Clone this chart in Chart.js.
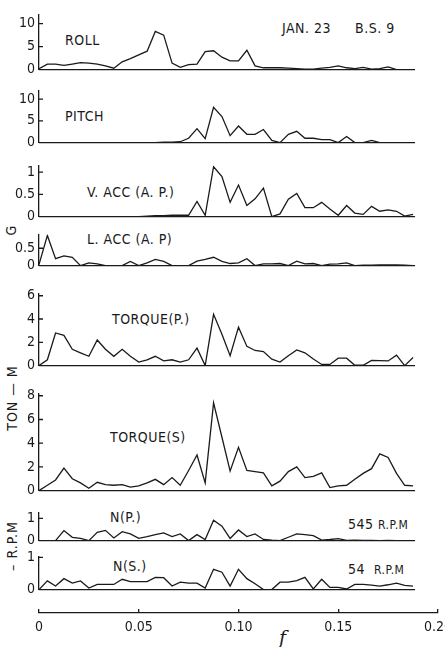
<!DOCTYPE html>
<html>
<head>
<meta charset="utf-8">
<script src="https://cdn.jsdelivr.net/npm/chart.js@4.4.1/dist/chart.umd.min.js"></script>
<style>
  html, body { margin: 0; padding: 0; background: #fff; }
  body { width: 445px; height: 647px; overflow: hidden; position: relative;
         font-family: 'Liberation Sans Narrow', 'DejaVu Sans Condensed', 'Liberation Sans', sans-serif; color: #1a1a1a; }
  .panel { position: absolute; left: 0; width: 460px; }
  .lbl { position: absolute; font-size: 14px; line-height: 14px; white-space: nowrap; letter-spacing: 0.5px; }
  .small { font-size: 12px; }
  .rot { position: absolute; font-size: 14px; line-height: 14px; white-space: nowrap; letter-spacing: 1px;
         transform: translate(-50%, -50%) rotate(-90deg); }
  .f { position: absolute; font-family: 'DejaVu Serif', serif; font-style: italic; font-size: 19px; line-height: 19px; }
</style>
</head>
<body>

<div class="lbl" style="left:65px;top:33px">ROLL</div>
<div class="lbl" style="left:282px;top:21px">JAN. 23</div>
<div class="lbl" style="left:355px;top:21px">B.S. 9</div>
<div class="lbl" style="left:65px;top:109px">PITCH</div>
<div class="lbl" style="left:87px;top:185px">V. ACC (A. P.)</div>
<div class="lbl" style="left:87px;top:232px">L. ACC (A. P)</div>
<div class="lbl" style="left:112px;top:312px">TORQUE(P.)</div>
<div class="lbl" style="left:110px;top:430px">TORQUE(S)</div>
<div class="lbl" style="left:110px;top:510px">N(P.)</div>
<div class="lbl" style="left:348px;top:517px">545 <span class="small">R.P.M</span></div>
<div class="lbl" style="left:113px;top:559px">N(S.)</div>
<div class="lbl" style="left:348px;top:562px">54 &nbsp;<span class="small">R.P.M</span></div>
<div class="rot" style="left:11px;top:230px">G</div>
<div class="rot" style="left:12px;top:398px">TON — M</div>
<div class="rot" style="left:12px;top:546px">– R.P.M</div>
<div class="f" style="left:279px;top:628px">f</div>

<script>
// frequency grid (Hz)
const freqs = [0, 0.0042, 0.0083, 0.0125, 0.0167, 0.0208, 0.025, 0.0292, 0.0333, 0.0375,
  0.0417, 0.0458, 0.05, 0.0542, 0.0583, 0.0625, 0.0667, 0.0708, 0.075, 0.0792,
  0.0833, 0.0875, 0.0917, 0.0958, 0.1, 0.1042, 0.1083, 0.1125, 0.1167, 0.1208,
  0.125, 0.1292, 0.1333, 0.1375, 0.1417, 0.1458, 0.15, 0.1542, 0.1583, 0.1625,
  0.1667, 0.1708, 0.175, 0.1792, 0.1833, 0.1875];

const roll = [0.2, 1.2, 1.2, 0.9, 1.2, 1.5, 1.4, 1.2, 0.8, 0.3,
  1.7, 2.4, 3.2, 4.0, 8.3, 7.5, 1.4, 0.5, 1.1, 1.2,
  3.9, 4.1, 2.7, 1.9, 1.9, 4.2, 0.8, 0.4, 0.4, 0.4,
  0.3, 0.2, 0.1, 0.1, 0.3, 0.5, 0.8, 0.4, 0.2, 0.5,
  0.1, 0.2, 0.6, 0, 0, 0];
const pitch = [0, 0, 0, 0, 0, 0, 0, 0, 0, 0,
  0, 0, 0, 0, 0, 0.1, 0.1, 0.2, 1.0, 3.2,
  0.9, 8.1, 6.0, 1.6, 3.8, 1.9, 1.9, 3.0, 0.5, 0,
  1.9, 2.6, 1.0, 1.0, 0.7, 0.7, 0, 1.4, 0, 0,
  0.5, 0, 0, 0, 0, 0];
const vAcc = [0, 0, 0, 0, 0, 0, 0, 0, 0, 0,
  0, 0, 0, 0.01, 0.02, 0.02, 0.03, 0.03, 0.03, 0.34,
  0.03, 1.12, 0.9, 0.32, 0.71, 0.25, 0.4, 0.64, 0, 0.06,
  0.39, 0.52, 0.2, 0.2, 0.32, 0.17, 0.03, 0.25, 0.08, 0.05,
  0.23, 0.12, 0.15, 0.12, 0.01, 0.05];
const lAcc = [0.03, 0.87, 0.2, 0.28, 0.24, 0, 0.08, 0.05, 0, 0,
  0, 0.12, 0, 0.08, 0.18, 0.12, 0, 0, 0, 0.13,
  0.18, 0.24, 0.12, 0.06, 0.08, 0.2, 0, 0.05, 0.05, 0.06,
  0, 0.13, 0.05, 0.06, 0, 0.04, 0.05, 0.08, 0, 0.01,
  0.01, 0.02, 0.02, 0.02, 0.01, 0];
const torqueP = [0, 0.5, 2.8, 2.6, 1.4, 1.1, 0.8, 2.2, 1.4, 0.8,
  1.4, 0.8, 0.3, 0.5, 0.8, 0.4, 0.5, 0.3, 0.5, 1.5,
  0, 4.4, 2.7, 0.85, 3.3, 1.65, 1.3, 1.2, 0.55, 0.3,
  0.85, 1.35, 1.1, 0.56, 0.1, 0.1, 0.64, 0.64, 0.03, 0.03,
  0.45, 0.42, 0.4, 0.9, 0, 0.7];
const torqueS = [0, 0.45, 0.9, 1.9, 1.0, 0.65, 0.2, 0.7, 0.5, 0.45,
  0.5, 0.3, 0.4, 0.65, 0.95, 0.5, 1.1, 0.45, 1.7, 3.0,
  0.65, 7.4, 4.5, 1.65, 3.65, 1.7, 1.6, 1.5, 0.4, 0.8,
  1.6, 2.0, 1.1, 1.2, 1.5, 0.25, 0.4, 0.45, 0.95, 1.45,
  1.85, 3.1, 2.8, 1.45, 0.45, 0.4];
const nP = [0, 0, 0, 0.45, 0.15, 0.1, 0, 0.37, 0.46, 0.12,
  0.4, 0.3, 0.1, 0.18, 0.27, 0.35, 0.18, 0.3, 0, 0.27,
  0.05, 0.92, 0.65, 0.1, 0.48, 0.18, 0.3, 0.05, 0.02, 0,
  0.15, 0.3, 0.27, 0.22, 0.02, 0.05, 0.09, 0.01, 0.02, 0.01,
  0.01, 0, 0.01, 0, 0, 0];
const nS = [0, 0.27, 0.11, 0.34, 0.2, 0.27, 0.05, 0.16, 0.16, 0.16,
  0.32, 0.25, 0.25, 0.25, 0.38, 0.37, 0.11, 0.23, 0.2, 0.2,
  0.05, 0.63, 0.54, 0.11, 0.63, 0.34, 0.18, 0, 0, 0.23,
  0.23, 0.28, 0.38, 0.02, 0.32, 0.07, 0.07, 0.02, 0.16, 0.16,
  0.14, 0.11, 0.15, 0.2, 0.13, 0.11];

const xTicks = [0, 0.05, 0.1, 0.15, 0.2];

const INK = '#1a1a1a';
const FONT = "'Liberation Sans Narrow', 'DejaVu Sans Condensed', 'Liberation Sans', sans-serif";
const PAD = 10;

// y-axis ticks drawn inward and the zero baseline under each trace
const panelDecor = {
  id: 'panelDecor',
  afterDatasetsDraw(chart) {
    const { ctx, scales: { x, y } } = chart;
    const left = chart.chartArea.left;
    ctx.save();
    ctx.strokeStyle = INK;
    ctx.lineWidth = 1.3;
    ctx.beginPath();
    y.ticks.forEach(t => {
      const py = y.getPixelForValue(t.value);
      ctx.moveTo(left, py);
      ctx.lineTo(left + 4, py);
    });
    const y0 = y.getPixelForValue(0);
    ctx.moveTo(left, y0);
    ctx.lineTo(x.getPixelForValue(freqs[freqs.length - 1]) + 2, y0);
    ctx.stroke();
    ctx.restore();
  }
};

function makePanel(values, top, bottom, yMax, step) {
  const div = document.createElement('div');
  div.className = 'panel';
  div.style.top = (top - PAD) + 'px';
  div.style.height = (bottom - top + 2 * PAD) + 'px';
  const canvas = document.createElement('canvas');
  div.appendChild(canvas);
  document.body.appendChild(div);

  return new Chart(canvas, {
    type: 'line',
    data: {
      datasets: [{
        data: freqs.map((f, i) => ({ x: f, y: values[i] })),
        borderColor: INK,
        borderWidth: 1.3,
        pointRadius: 0,
        tension: 0,
        fill: false
      }]
    },
    options: {
      responsive: true,
      maintainAspectRatio: false,
      animation: false,
      events: [],
      layout: { padding: { top: PAD, bottom: PAD, left: 0, right: 22 } },
      plugins: { legend: { display: false }, tooltip: { enabled: false } },
      scales: {
        x: { type: 'linear', min: 0, max: 0.2, display: false },
        y: {
          min: 0,
          max: yMax,
          afterFit: s => { s.width = 39; },
          grid: { display: false, drawTicks: false },
          border: { display: true, color: INK, width: 1.3 },
          ticks: { stepSize: step, includeBounds: false, padding: 4, color: INK,
                   font: { family: FONT, size: 14 },
                   callback: v => String(v) }
        }
      }
    },
    plugins: [panelDecor]
  });
}

makePanel(roll, 12, 72, 12, 5);
makePanel(pitch, 88, 145, 12, 5);
makePanel(vAcc, 163, 219, 1.15, 0.5);
makePanel(lAcc, 232, 268, 0.9, 0.5);
makePanel(torqueP, 291, 368, 6.2, 2);
makePanel(torqueS, 391, 493, 8.2, 2);
makePanel(nP, 510, 543, 1.27, 1);
makePanel(nS, 554, 592, 1.03, 1);

// shared frequency axis at the bottom, with short upward ticks
(function () {
  const div = document.createElement('div');
  div.className = 'panel';
  div.style.top = (613 - 4 - PAD) + 'px';
  div.style.height = '48px';
  const canvas = document.createElement('canvas');
  div.appendChild(canvas);
  document.body.appendChild(div);

  new Chart(canvas, {
    type: 'line',
    data: { datasets: [] },
    options: {
      responsive: true,
      maintainAspectRatio: false,
      animation: false,
      events: [],
      layout: { padding: { top: PAD, bottom: 0, left: 39, right: 22 } },
      plugins: { legend: { display: false }, tooltip: { enabled: false } },
      scales: {
        x: {
          type: 'linear', min: 0, max: 0.2,
          afterFit: s => { s.height = 48 - PAD - 4; },
          afterBuildTicks: s => { s.ticks = xTicks.map(v => ({ value: v })); },
          grid: { drawOnChartArea: true, drawTicks: false, color: INK, lineWidth: 1.3 },
          border: { display: true, color: INK, width: 1.3 },
          ticks: { padding: 6, color: INK, font: { family: FONT, size: 14 } }
        },
        y: { display: false, min: 0, max: 1 }
      }
    }
  });
})();
</script>
</body>
</html>
